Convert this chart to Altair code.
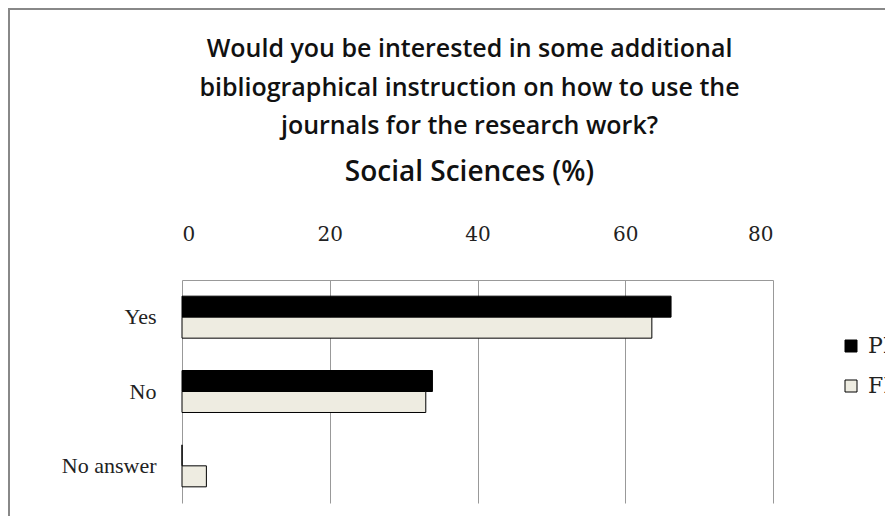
import altair as alt
import pandas as pd

categories = ["Yes", "No", "No answer"]
series = ["PL", "FR"]
pl_values = [66.2, 33.9, 0.0]
fr_values = [63.6, 33.0, 3.3]

rows = []
for i, c in enumerate(categories):
    rows.append({"answer": c, "country": "PL", "pct": pl_values[i]})
    rows.append({"answer": c, "country": "FR", "pct": fr_values[i]})
df = pd.DataFrame(rows)

W, H = 591, 223
PL_, PT, PR, PB = 174, 272, 112, 13

bars = alt.Chart(df).mark_bar(stroke="black", strokeWidth=1).encode(
    x=alt.X("pct:Q", scale=alt.Scale(domain=[0, 80]),
            axis=alt.Axis(orient="top", values=[0, 20, 40, 60, 80], title=None,
                          grid=True, gridColor="#999999", gridWidth=1,
                          ticks=False, domain=True, domainColor="#999999",
                          labelPadding=36, labelFont="DejaVu Serif", labelFontSize=20,
                          labelColor="#222222")),
    y=alt.Y("answer:N", sort=categories,
            scale=alt.Scale(paddingInner=0.435, paddingOuter=0.2175),
            axis=alt.Axis(title=None, ticks=False, domain=False, labelPadding=26,
                          labelFont="Liberation Serif", labelFontSize=22, labelColor="#222222")),
    yOffset=alt.YOffset("country:N", sort=series, scale=alt.Scale(paddingInner=0, paddingOuter=0)),
    color=alt.Color("country:N", sort=series,
                    scale=alt.Scale(domain=series, range=["#000000", "#EEECE1"]),
                    legend=alt.Legend(title=None, orient="none", legendX=658, legendY=55,
                                      symbolType="square", symbolSize=144,
                                      symbolStrokeColor="black", symbolStrokeWidth=1,
                                      rowPadding=18, labelFont="DejaVu Serif",
                                      labelFontSize=22, labelColor="#222222", labelOffset=6)),
)

border_df = pd.DataFrame({"k": [0]})
border = alt.Chart(border_df).mark_rect(fill=None, stroke="#888888", strokeWidth=2).encode(
    x=alt.value(-173), y=alt.value(-271), x2=alt.value(W + 200), y2=alt.value(H + 100)
)

chart = alt.layer(border, bars).properties(
    width=W, height=H,
    autosize=alt.AutoSizeParams(type="none"),
    padding={"left": PL_, "top": PT, "right": PR, "bottom": PB},
    title=alt.TitleParams(
        text=["Would you be interested in some additional",
              "bibliographical instruction on how to use the",
              "journals for the research work?"],
        subtitle="Social Sciences (%)",
        anchor="middle", offset=-179, dx=-8,
        font="Open Sans", fontSize=25, fontWeight=600, lineHeight=38.5, color="#111111",
        subtitleFont="Open Sans", subtitleFontSize=28, subtitleFontWeight=600,
        subtitleColor="#111111", subtitlePadding=20,
    ),
).configure_view(stroke=None)

chart.save("out.html", embed_options={"renderer": "svg", "actions": False})
